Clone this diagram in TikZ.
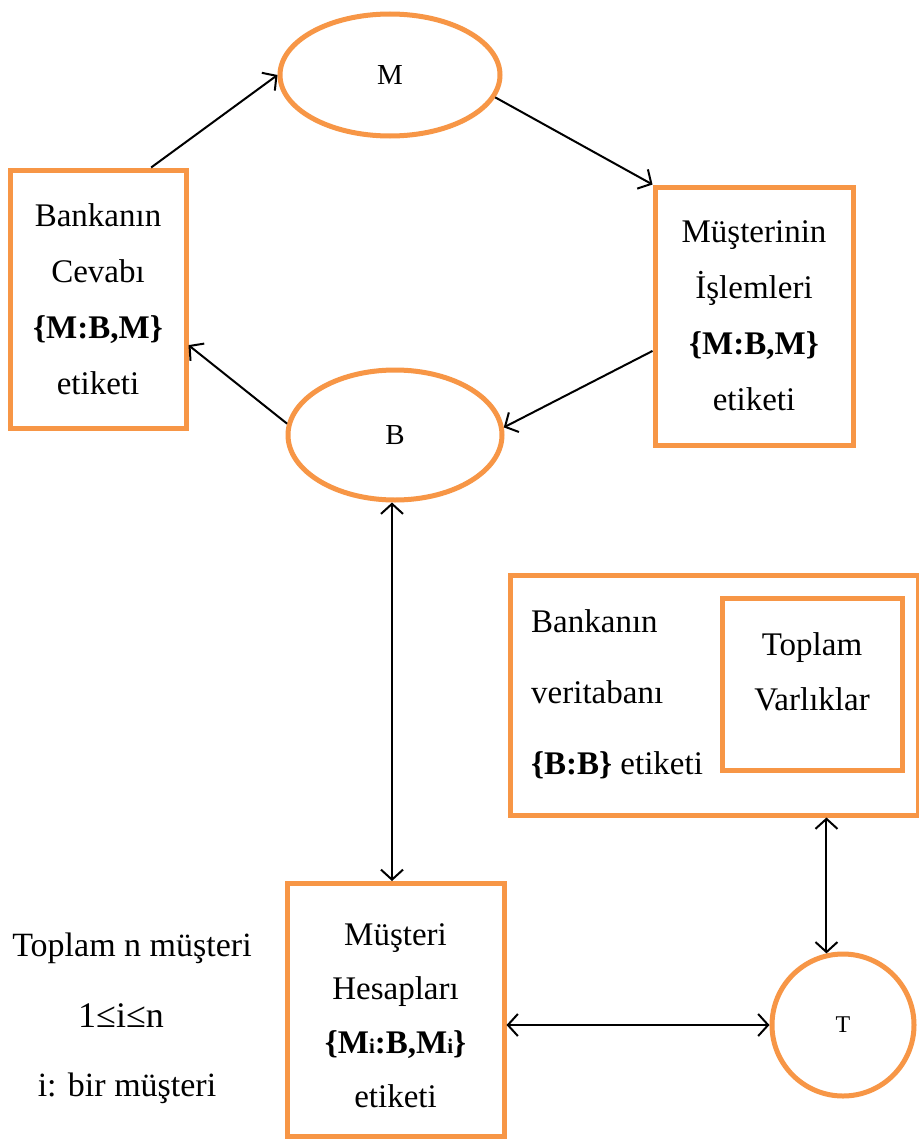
\documentclass[tikz,border=0pt]{standalone}
\usepackage{fontspec}
\setmainfont{Liberation Serif}
\usetikzlibrary{shapes.geometric,arrows.meta,calc}
\definecolor{org}{HTML}{F79646}
\begin{document}
\begin{tikzpicture}[x=1pt,y=-1pt,
  obox/.style={draw=org, line width=5pt, rectangle, inner sep=0pt, align=center,
    font=\fontsize{33}{56}\selectfont},
  oell/.style={draw=org, line width=5pt, ellipse, inner sep=0pt,
    font=\fontsize{29}{30}\selectfont},
  conn/.style={line width=2pt, -{Straight Barb[length=10pt,width=22pt,line width=2pt]}},
  bconn/.style={line width=2pt, {Straight Barb[length=10pt,width=22pt,line width=2pt]}-{Straight Barb[length=10pt,width=22pt,line width=2pt]}},
  note/.style={font=\fontsize{34}{36}\selectfont, inner sep=0pt}]
\useasboundingbox (0,0) rectangle (918,1140);
\fill[white] (0,0) rectangle (918,1140);

\node[oell, minimum width=220pt, minimum height=122pt] (M) at (390,75) {M};
\node[oell, minimum width=214pt, minimum height=130pt] (B) at (395,435) {B};
\node[oell, circle, minimum size=142pt, font=\fontsize{24}{25}\selectfont] (T) at (843,1025) {T};

\node[obox, minimum width=176pt, minimum height=258pt] (lb) at (98,299)
  {Bankanın\\Cevabı\\\textbf{\{M:B,M\}}\\etiketi};
\node[obox, minimum width=198pt, minimum height=258pt] (rb) at (754,316)
  {Müşterinin\\İşlemleri\\\textbf{\{M:B,M\}}\\etiketi};
\node[obox, minimum width=217pt, minimum height=253pt] (mh) at (395.5,1010) {};
\node[align=center, inner sep=0pt, font=\fontsize{33}{54}\selectfont] (mht) at (395.5,1016)
  {Müşteri\\Hesapları\\\textbf{\{M{\fontsize{21}{20}\selectfont i}:B,M{\fontsize{21}{20}\selectfont i}\}}\\etiketi};

\node[obox, minimum width=408pt, minimum height=240pt] (db) at (714,695) {};
\node[obox, minimum width=180pt, minimum height=172pt] (tv) at (812,684) {};
\node[align=center, inner sep=0pt, font=\fontsize{33}{55}\selectfont] (tvt) at (812,672)
  {Toplam\\Varlıklar};
\node[anchor=west, align=left, inner sep=0pt, font=\fontsize{33}{71}\selectfont] (dbt) at (531,694)
  {Bankanın\\veritabanı\\\textbf{\{B:B\}} etiketi};

\node[note] (n1) at (132,948) {Toplam n müşteri};
\node[note, font=\fontsize{36}{36}\selectfont] (n2) at (121,1016) {1≤i≤n};
\node[note] (n3) at (127,1088) {i: bir müşteri};

\draw[conn] (lb.68) -- (M.west);
\draw[conn] (M.-12) -- (rb.north west);
\draw[conn] (rb.199) -- (B.4);
\draw[conn] (B.174) -- (lb.-27);
\draw[bconn] (B.south -| 392,0) -- (mh.north -| 392,0);
\draw[bconn] (mh.east |- T.west) -- (T.west);
\draw[bconn] (db.south -| T.103) -- (T.103);
\end{tikzpicture}
\end{document}
